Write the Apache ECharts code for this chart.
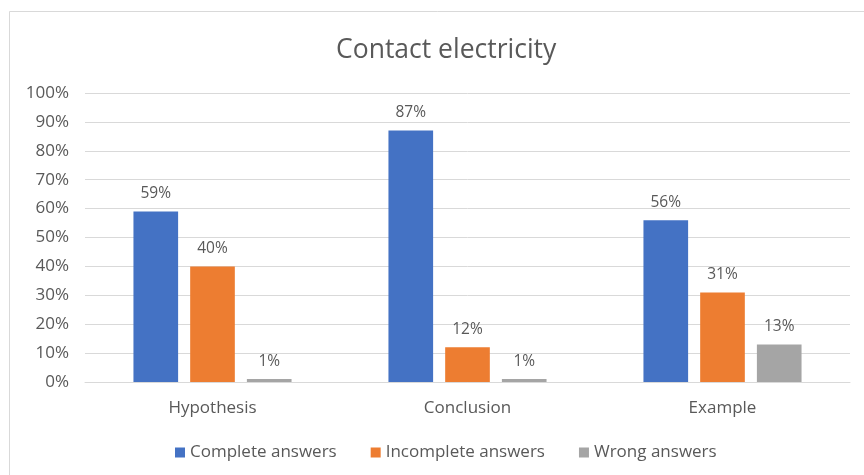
<!DOCTYPE html>
<html>
<head>
<meta charset="utf-8">
<script src="https://cdn.jsdelivr.net/npm/echarts@6/dist/echarts.min.js"></script>
<style>
  html, body { margin: 0; padding: 0; background: #fff; }
  #chart { width: 864px; height: 475px; }
</style>
</head>
<body>
<div id="chart"></div>
<script>
// Contact electricity: share of answers per item
const categories = ['Hypothesis', 'Conclusion', 'Example'];
const completeAnswers = [59, 87, 56];
const incompleteAnswers = [40, 12, 31];
const wrongAnswers = [1, 1, 13];
const yTicks = [0, 10, 20, 30, 40, 50, 60, 70, 80, 90, 100];

const FONT = '"Open Sans", "Noto Sans", sans-serif';
const TEXT = '#595959';

const chart = echarts.init(document.getElementById('chart'), null, { renderer: 'canvas' });

function barSeries(name, data, color) {
  return {
    name: name,
    type: 'bar',
    data: data,
    itemStyle: { color: color },
    barGap: '27%',
    barCategoryGap: '38%',
    label: {
      show: true,
      position: 'top',
      distance: 10,
      formatter: p => p.value + '%',
      color: TEXT,
      fontFamily: FONT,
      fontSize: 15.5
    }
  };
}

chart.setOption({
  animation: false,
  backgroundColor: '#fff',
  graphic: [{
    type: 'rect',
    shape: { x: 9.5, y: 11.5, width: 870, height: 480 },
    style: { fill: 'none', stroke: '#d9d9d9', lineWidth: 1 },
    silent: true,
    z: -1
  }],
  title: {
    text: 'Contact electricity',
    left: 331,
    top: 32,
    textStyle: { fontFamily: FONT, fontSize: 26.5, fontWeight: 'normal', color: TEXT }
  },
  legend: {
    bottom: 9,
    left: 170,
    itemWidth: 10,
    itemHeight: 10,
    itemGap: 34,
    icon: 'rect',
    textStyle: { fontFamily: FONT, fontSize: 17, color: TEXT },
    data: ['Complete answers', 'Incomplete answers', 'Wrong answers']
  },
  grid: { left: 85, right: 14, top: 93, bottom: 93 },
  xAxis: {
    type: 'category',
    data: categories,
    axisTick: { show: false },
    axisLine: { lineStyle: { color: '#d9d9d9' } },
    axisLabel: { color: TEXT, fontFamily: FONT, fontSize: 17, margin: 18 }
  },
  yAxis: {
    type: 'value',
    min: yTicks[0],
    max: yTicks[yTicks.length - 1],
    interval: 10,
    axisLine: { show: false },
    axisTick: { show: false },
    splitLine: { lineStyle: { color: '#d9d9d9' } },
    axisLabel: { color: TEXT, fontFamily: FONT, fontSize: 17, margin: 16, formatter: v => v + '%' }
  },
  series: [
    barSeries('Complete answers', completeAnswers, '#4472c4'),
    barSeries('Incomplete answers', incompleteAnswers, '#ed7d31'),
    barSeries('Wrong answers', wrongAnswers, '#a5a5a5')
  ]
});
</script>
</body>
</html>
